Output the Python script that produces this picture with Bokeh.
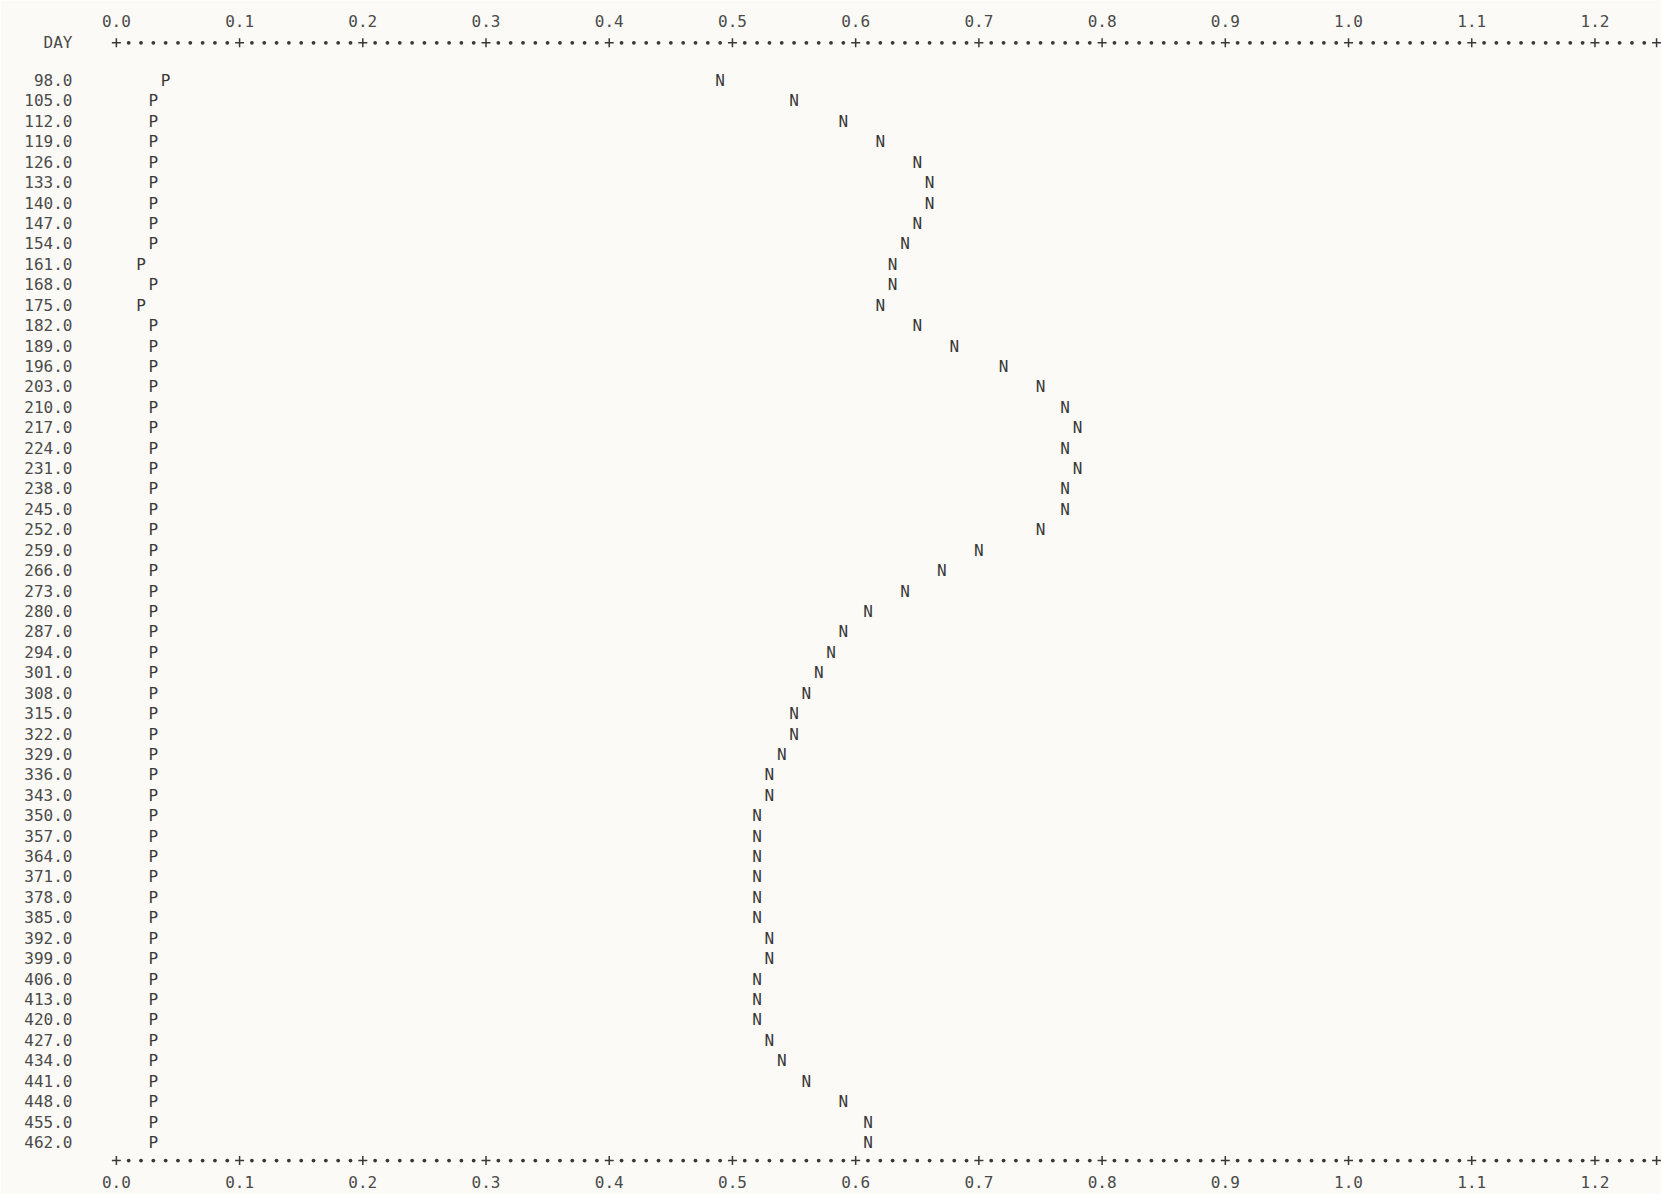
import numpy as np
from bokeh.plotting import figure
from bokeh.models import (Range1d, LinearAxis, FixedTicker, PrintfTickFormatter,
                          CustomJSTickFormatter)
from bokeh.core.properties import value
from bokeh.embed import file_html
from bokeh.resources import INLINE

# ---------------- data ----------------
days = [98, 105, 112, 119, 126, 133, 140, 147, 154, 161,
        168, 175, 182, 189, 196, 203, 210, 217, 224, 231,
        238, 245, 252, 259, 266, 273, 280, 287, 294, 301,
        308, 315, 322, 329, 336, 343, 350, 357, 364, 371,
        378, 385, 392, 399, 406, 413, 420, 427, 434, 441,
        448, 455, 462]

p_values = [0.04, 0.03, 0.03, 0.03, 0.03, 0.03, 0.03, 0.03, 0.03, 0.02,
            0.03, 0.02, 0.03, 0.03, 0.03, 0.03, 0.03, 0.03, 0.03, 0.03,
            0.03, 0.03, 0.03, 0.03, 0.03, 0.03, 0.03, 0.03, 0.03, 0.03,
            0.03, 0.03, 0.03, 0.03, 0.03, 0.03, 0.03, 0.03, 0.03, 0.03,
            0.03, 0.03, 0.03, 0.03, 0.03, 0.03, 0.03, 0.03, 0.03, 0.03,
            0.03, 0.03, 0.03]

n_values = [0.49, 0.55, 0.59, 0.62, 0.65, 0.66, 0.66, 0.65, 0.64, 0.63,
            0.63, 0.62, 0.65, 0.68, 0.72, 0.75, 0.77, 0.78, 0.77, 0.78,
            0.77, 0.77, 0.75, 0.70, 0.67, 0.64, 0.61, 0.59, 0.58, 0.57,
            0.56, 0.55, 0.55, 0.54, 0.53, 0.53, 0.52, 0.52, 0.52, 0.52,
            0.52, 0.52, 0.53, 0.53, 0.52, 0.52, 0.52, 0.53, 0.54, 0.56,
            0.59, 0.61, 0.61]

x_ticks = [0.0, 0.1, 0.2, 0.3, 0.4, 0.5, 0.6, 0.7, 0.8, 0.9, 1.0, 1.1, 1.2]
axis_end = 1.25          # last '+' of the printer scale
char_step = 0.01         # one printer column
row_title = "DAY"

# ---------------- styling ----------------
FONT = "DejaVu Sans Mono"
INK = "#383838"
LABEL_INK = "#4a4a4a"
PAPER = "#fbfaf6"
FS = "16px"

top_axis_day = 85.1      # row of the upper dotted scale
bottom_axis_day = 468.2  # row of the lower dotted scale

p = figure(width=1661, height=1194, output_backend="svg", toolbar_location=None,
           x_range=Range1d(-0.021, 1.254), y_range=Range1d(470.23, 82.23),
           min_border_left=90, min_border_right=0, min_border_top=34,
           min_border_bottom=28, x_axis_location=None, y_axis_location=None)
p.outline_line_color = None
p.background_fill_color = PAPER
p.border_fill_color = PAPER
for g in p.grid:
    g.visible = False


def style_axis(ax, standoff):
    ax.axis_line_color = None
    ax.major_tick_line_color = None
    ax.minor_tick_line_color = None
    ax.major_tick_out = 0
    ax.major_tick_in = 0
    ax.minor_tick_out = 0
    ax.minor_tick_in = 0
    ax.major_label_standoff = standoff
    ax.major_label_text_font = FONT
    ax.major_label_text_font_size = FS
    ax.major_label_text_color = LABEL_INK


top = LinearAxis(ticker=FixedTicker(ticks=x_ticks),
                 formatter=PrintfTickFormatter(format="%.1f"))
style_axis(top, 8)
p.add_layout(top, "above")

bottom = LinearAxis(ticker=FixedTicker(ticks=x_ticks),
                    formatter=PrintfTickFormatter(format="%.1f"))
style_axis(bottom, 9)
p.add_layout(bottom, "below")

left = LinearAxis(ticker=FixedTicker(ticks=[top_axis_day] + days),
                  formatter=CustomJSTickFormatter(
                      args=dict(title=row_title, title_day=top_axis_day),
                      code="return tick == title_day ? title : tick.toFixed(1);"))
style_axis(left, 18)
p.add_layout(left, "left")

# dotted printer scales: '+' every 0.1 and at the end, '.' in every column between
k = np.arange(0, int(round(axis_end / char_step)) + 1)
marks = k * char_step
is_plus = (k % 10 == 0) | (k == k[-1])
for yrow in (top_axis_day, bottom_axis_day):
    dots = marks[~is_plus]
    plus = marks[is_plus]
    p.scatter(dots, [yrow] * len(dots), marker="circle", size=3.8,
              fill_color=INK, line_color=None)
    p.scatter(plus, [yrow] * len(plus), marker="cross", size=9,
              line_color=INK, line_width=1.5)

# plotted characters
p.text(x=p_values, y=days, text=["P"] * len(days), text_font=value(FONT),
       text_font_size=FS, text_align="center", text_baseline="middle",
       text_color=INK)
p.text(x=n_values, y=days, text=["N"] * len(days), text_font=value(FONT),
       text_font_size=FS, text_align="center", text_baseline="middle",
       text_color=INK)

open("out.html", "w").write(file_html(p, INLINE))
